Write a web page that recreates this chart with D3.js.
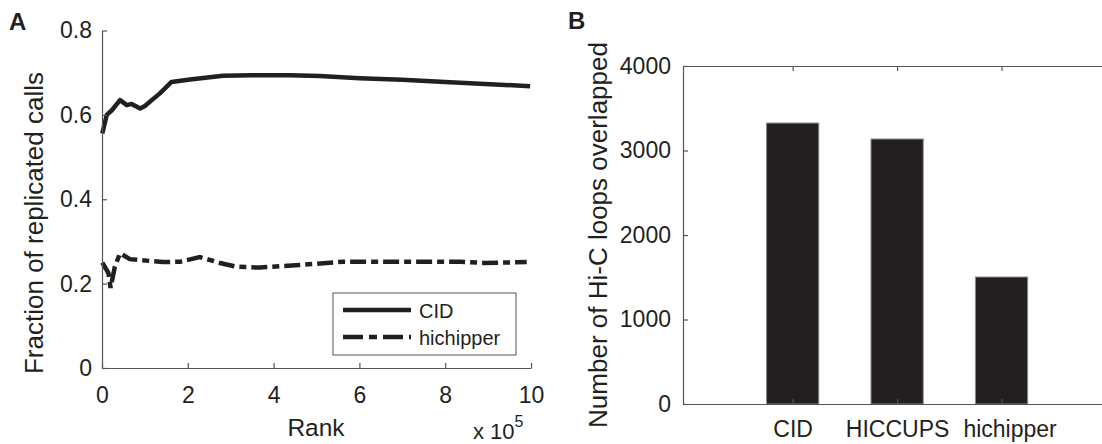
<!doctype html>
<html>
<head>
<script src="https://d3js.org/d3.v7.min.js"></script>
<style>
  body { margin: 0; background: #fff; }
  text { font-family: "Liberation Sans", Arial, Helvetica, sans-serif; fill: #231f20; }
</style>
</head>
<body>
<svg id="fig" width="1102" height="444"></svg>
<script>
// panel A: fraction of replicated calls vs rank
var cidRank = [700, 11000, 23000, 42000, 58000, 69000, 89000, 100000, 116000, 135000, 162000, 205000, 282000, 350000, 438000, 508000, 600000, 700000, 800000, 998000]
var cidFrac = [0.556, 0.600, 0.611, 0.635, 0.623, 0.626, 0.615, 0.621, 0.635, 0.651, 0.678, 0.684, 0.693, 0.694, 0.694, 0.692, 0.687, 0.683, 0.678, 0.668]
var hicRank = [700, 15000, 20000, 30000, 42000, 65000, 142000, 182000, 228000, 275000, 314000, 368000, 460000, 560000, 835000, 890000, 990000]
var hicFrac = [0.250, 0.225, 0.190, 0.240, 0.272, 0.258, 0.251, 0.252, 0.263, 0.249, 0.240, 0.238, 0.244, 0.252, 0.252, 0.249, 0.251]
var rankTicks = [0, 200000, 400000, 600000, 800000, 1000000]
var fracTicks = [0, 0.2, 0.4, 0.6, 0.8]
var seriesNames = ["CID", "hichipper"]

// panel B: Hi-C loops overlapped
var methods = ["CID", "HICCUPS", "hichipper"]
var loops = [3325, 3136, 1503]
var loopTicks = [0, 1000, 2000, 3000, 4000]

var svg = d3.select("#fig")
var ink = "#231f20"
var axisCol = "#555"

// ---------- A ----------
var xA = d3.scaleLinear().domain([0, 1000000]).range([102, 531])
var yA = d3.scaleLinear().domain([0, 0.8]).range([368, 30.5])

var gA = svg.append("g")

gA.append("path")
    .datum(d3.zip(cidRank, cidFrac))
    .attr("fill", "none").attr("stroke", ink).attr("stroke-width", 4.5)
    .attr("stroke-linejoin", "round")
    .attr("d", d3.line().x(d => xA(d[0])).y(d => yA(d[1])))

gA.append("path")
    .datum(d3.zip(hicRank, hicFrac))
    .attr("fill", "none").attr("stroke", ink).attr("stroke-width", 4.5)
    .attr("stroke-dasharray", "16,5,7,5")
    .attr("d", d3.line().x(d => xA(d[0])).y(d => yA(d[1])))

gA.append("g").attr("transform", "translate(0,368)")
    .call(d3.axisBottom(xA).tickValues(rankTicks).tickFormat(d => d / 100000)
        .tickSizeInner(-5).tickSizeOuter(0).tickPadding(19))
gA.append("g").attr("transform", "translate(102,0)")
    .call(d3.axisLeft(yA).tickValues(fracTicks).tickFormat(d => d === 0 ? "0" : d.toFixed(1))
        .tickSizeInner(-5).tickSizeOuter(0).tickPadding(10))

gA.append("text").attr("transform", "translate(43,223) rotate(-90)")
    .attr("text-anchor", "middle").style("font-size", "26px")
    .text("Fraction of replicated calls")
gA.append("text").attr("x", 316).attr("y", 436)
    .attr("text-anchor", "middle").style("font-size", "24.5px").text("Rank")
var expo = gA.append("text").attr("x", 473).attr("y", 439).style("font-size", "22px")
expo.append("tspan").text("x 10")
expo.append("tspan").attr("dy", -12).style("font-size", "16px").text("5")

// legend
var leg = gA.append("g")
leg.append("rect").attr("x", 333).attr("y", 293).attr("width", 183).attr("height", 62)
    .attr("fill", "#fff").attr("stroke", axisCol).attr("stroke-width", 1)
seriesNames.forEach(function(name, i) {
    var yy = 310 + i * 27
    leg.append("line").attr("x1", 343).attr("x2", 411).attr("y1", yy).attr("y2", yy)
        .attr("stroke", ink).attr("stroke-width", 4.5)
        .attr("stroke-dasharray", i === 1 ? "20,6,8,6" : null)
    leg.append("text").attr("x", 419).attr("y", yy + 8).style("font-size", "20px").text(name)
})

gA.append("text").attr("x", 9).attr("y", 30).style("font-size", "24px")
    .style("font-weight", "bold").text("A")

// ---------- B ----------
var xB = d3.scaleLinear().domain([-0.05, 4]).range([683, 1106])
var yB = d3.scaleLinear().domain([0, 4000]).range([404, 66])
var gB = svg.append("g")

gB.selectAll("rect.bar").data(methods).enter().append("rect")
    .attr("class", "bar")
    .attr("x", (d, i) => xB(i + 1 - 0.25))
    .attr("width", xB(0.5) - xB(0))
    .attr("y", (d, i) => yB(loops[i]))
    .attr("height", (d, i) => yB(0) - yB(loops[i]))
    .attr("fill", ink).attr("stroke", "#8a8a8a").attr("stroke-width", 1)

var bx = gB.append("g").attr("transform", "translate(0,404)")
    .call(d3.axisBottom(xB).tickValues([1, 2, 3]).tickFormat((d) => methods[d - 1])
        .tickSizeInner(-5).tickSizeOuter(0).tickPadding(17))
// last label sits a little right of its bar in the original
bx.selectAll(".tick text").filter(d => d === 3).attr("dx", 8)
gB.append("g").attr("transform", "translate(0,66)")
    .call(d3.axisTop(xB).tickValues([1, 2, 3]).tickFormat("")
        .tickSizeInner(-5).tickSizeOuter(0))
gB.append("g").attr("transform", "translate(683,0)")
    .call(d3.axisLeft(yB).tickValues(loopTicks).tickFormat(d3.format("d"))
        .tickSizeInner(-5).tickSizeOuter(0).tickPadding(12))

gB.append("text").attr("transform", "translate(607,235) rotate(-90)")
    .attr("text-anchor", "middle").style("font-size", "26px")
    .text("Number of Hi-C loops overlapped")
gB.append("text").attr("x", 568).attr("y", 29).style("font-size", "24px")
    .style("font-weight", "bold").text("B")

// axis styling
svg.selectAll(".domain").attr("stroke", axisCol).attr("stroke-width", 1.2)
svg.selectAll(".tick line").attr("stroke", axisCol).attr("stroke-width", 1.2)
svg.selectAll(".tick text").style("font-size", "23px").attr("fill", ink)
    .style("font-family", "'Liberation Sans', Arial, Helvetica, sans-serif")
</script>
</body>
</html>
